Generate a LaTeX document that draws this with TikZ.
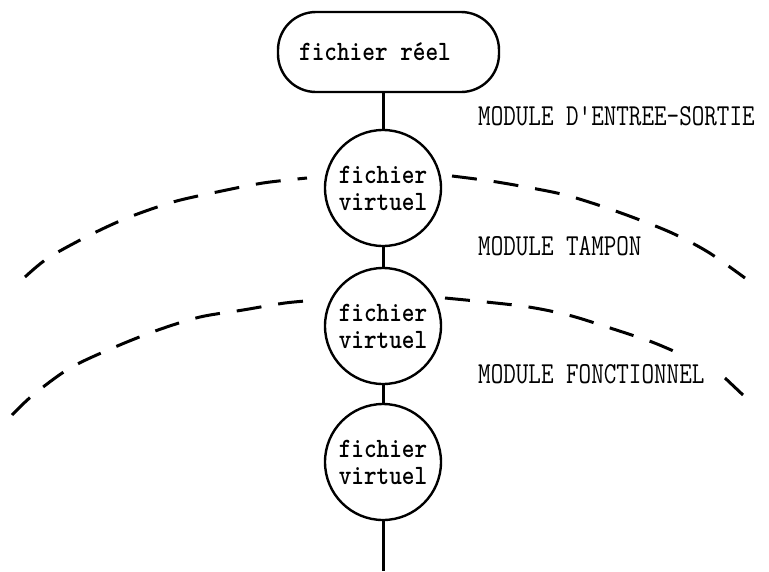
\documentclass[tikz,border=0pt]{standalone}
\usepackage{graphicx}
\begin{document}
\begin{tikzpicture}[x=1pt,y=-1pt,
  txt/.style={font=\ttfamily\fontseries{b}\fontsize{28}{27}\selectfont},
  realbox/.style={txt,draw,line width=2.4pt,rounded corners=38pt,minimum width=221pt,minimum height=80pt,inner sep=0pt},
  virt/.style={txt,draw,circle,line width=2.4pt,minimum size=116pt,inner sep=0pt,align=center},
  conn/.style={line width=3pt},
  border/.style={line width=3pt,dash pattern=on 25pt off 17pt},
  modlabel/.style={anchor=base west,inner sep=0pt}]
\useasboundingbox (0,0) rectangle (769,571);
\newcommand{\modtext}[1]{\scalebox{0.8}[1]{\ttfamily\fontsize{30.5}{30.5}\selectfont #1}}
\newcommand{\sx}[1]{\scalebox{0.86}[1]{#1}}
\node[realbox] (reel) at (388.5,52) {\sx{fichier réel}\hspace*{27pt}};
\node[virt] (v1) at (383,188) {\sx{fichier}\\\sx{virtuel}};
\node[virt] (v2) at (383,326) {\sx{fichier}\\\sx{virtuel}};
\node[virt] (v3) at (383,462) {\sx{fichier}\\\sx{virtuel}};
\coordinate (bottom) at (383,571);
\draw[conn] (v1.north) -- (v1.north |- reel.south);
\draw[conn] (v1.south) -- (v2.north);
\draw[conn] (v2.south) -- (v3.north);
\draw[conn] (v3.south) -- (bottom);
\node[modlabel] (m1) at (478,125) {\modtext{MODULE D'ENTREE-SORTIE}};
\node[modlabel] (m2) at (478,255) {\modtext{MODULE TAMPON}};
\node[modlabel] (m3) at (478,383) {\modtext{MODULE FONCTIONNEL}};
\draw[border] plot[smooth] coordinates {(25,277) (48,258) (88,236) (127,218) (173,202) (217,192) (263,183) (307,178)};
\draw[border] plot[smooth] coordinates {(452,176) (497,182) (557,193) (592,203) (632,217) (672,233) (708,252) (745,278)};
\draw[border] plot[smooth] coordinates {(12,415) (33,395) (70,368) (115,347) (158,330) (200,317) (243,310) (285,303) (318,300)};
\draw[border] plot[smooth] coordinates {(445,298) (522,306) (568,315) (607,327) (652,342) (687,357)};
\draw[border] (725,378) -- (743,395);
\end{tikzpicture}
\end{document}
